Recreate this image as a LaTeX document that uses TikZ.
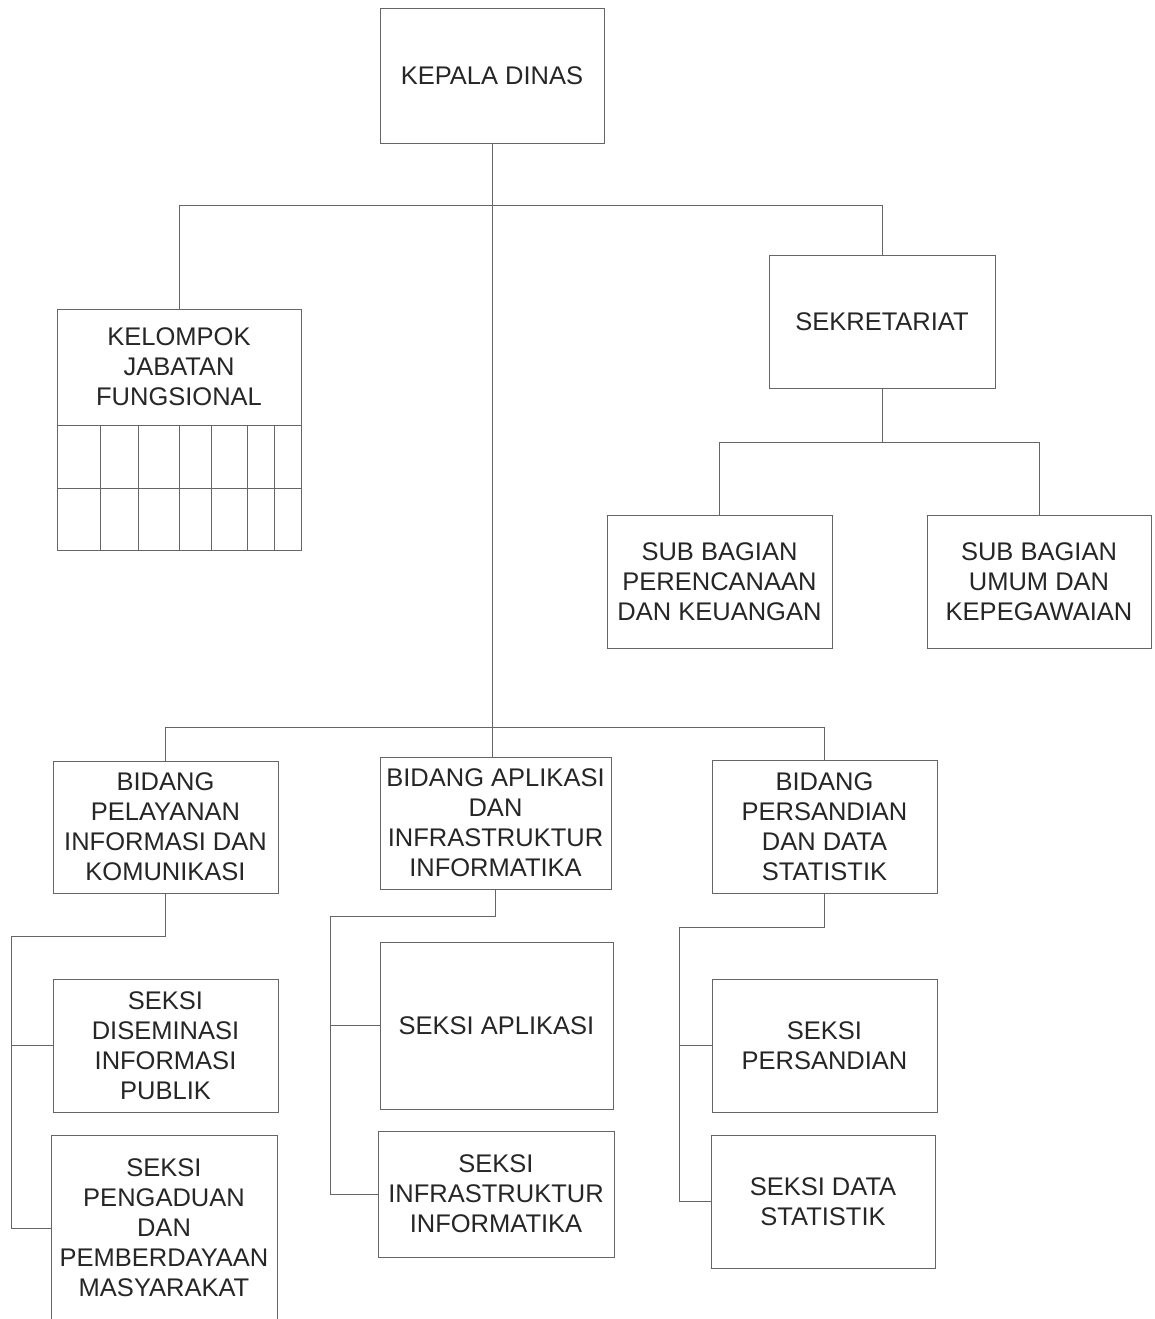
\documentclass[tikz,border=0pt]{standalone}
\usepackage{fontspec}
\setmainfont{Liberation Sans}
\usetikzlibrary{positioning}

\tikzset{
	unit/.style={draw=black!60, rectangle, inner sep=0pt, outer sep=0pt, align=center, text=black!85, font=\fontsize{25.5}{30}\selectfont},
	wire/.style={draw=black!60, line width=1pt}
}

\begin{document}
\begin{tikzpicture}[x=1pt, y=-1pt, line width=1pt]
{
	\fill[white] (0,0) rectangle (1155,1319);
	\useasboundingbox (0,0) rectangle (1155,1319);
	% top level
	\node[unit, minimum width=224, minimum height=134] (Kepala) at (492,76) {KEPALA DINAS};
	\node[unit, minimum width=244, minimum height=116] (Kelompok) at (179,367) {KELOMPOK\\JABATAN\\FUNGSIONAL};
	\node[unit, minimum width=226, minimum height=133] (Sekretariat) at (882,321.5) {SEKRETARIAT};
	\node[unit, minimum width=225, minimum height=133] (SubRencana) at (719.5,581.5) {SUB BAGIAN\\PERENCANAAN\\DAN KEUANGAN};
	\node[unit, minimum width=224, minimum height=133] (SubUmum) at (1039,581.5) {SUB BAGIAN\\UMUM DAN\\KEPEGAWAIAN};
	% bidang
	\node[unit, minimum width=225, minimum height=132] (Pelayanan) at (165.5,827) {BIDANG\\PELAYANAN\\INFORMASI DAN\\KOMUNIKASI};
	\node[unit, minimum width=231, minimum height=132] (Aplikasi) at (495.5,823) {BIDANG APLIKASI\\DAN\\INFRASTRUKTUR\\INFORMATIKA};
	\node[unit, minimum width=225, minimum height=133] (Persandian) at (824.5,826.5) {BIDANG\\PERSANDIAN\\DAN DATA\\STATISTIK};
	% seksi
	\node[unit, minimum width=225, minimum height=133] (Diseminasi) at (165.5,1045.5) {SEKSI\\DISEMINASI\\INFORMASI\\PUBLIK};
	\node[unit, minimum width=226, minimum height=186] (Pengaduan) at (164,1228) {SEKSI\\PENGADUAN\\DAN\\PEMBERDAYAAN\\MASYARAKAT};
	\node[unit, minimum width=233, minimum height=167] (SeksiAplikasi) at (496.5,1025.5) {SEKSI APLIKASI};
	\node[unit, minimum width=236, minimum height=126] (SeksiInfra) at (496,1194) {SEKSI\\INFRASTRUKTUR\\INFORMATIKA};
	\node[unit, minimum width=225, minimum height=133] (SeksiSandi) at (824.5,1045.5) {SEKSI\\PERSANDIAN};
	\node[unit, minimum width=224, minimum height=133] (SeksiData) at (823,1201.5) {SEKSI DATA\\STATISTIK};
	% grid under kelompok
	\draw[wire] (Kelompok.south west) rectangle (301,550);
	\draw[wire] (57,488) -- (301,488);
	\foreach \gx in {100,138,179,211,247,274}
		\draw[wire] (\gx,425) -- (\gx,550);
	% connectors
	\coordinate (TopBar) at (492,205);
	\coordinate (BidBar) at (492,727);
	\coordinate (SekBar) at (882,442);
	\coordinate (PelBar) at (11,936);
	\coordinate (AplBar) at (330,916);
	\coordinate (PerBar) at (679,927);
	\draw[wire] (Kepala.south) -- (Kepala.south |- Aplikasi.north);
	\draw[wire] (Kelompok.north) -- (Kelompok.north |- TopBar) -- (Sekretariat.north |- TopBar) -- (Sekretariat.north);
	\draw[wire] (Pelayanan.north) -- (Pelayanan.north |- BidBar) -- (Persandian.north |- BidBar) -- (Persandian.north);
	\draw[wire] (Sekretariat.south) -- (SekBar);
	\draw[wire] (SubRencana.north) -- (SubRencana.north |- SekBar) -- (SubUmum.north |- SekBar) -- (SubUmum.north);
	\draw[wire] (Pelayanan.south) |- (PelBar) |- (Pengaduan.west);
	\draw[wire] (Diseminasi.west) -- (Diseminasi.west -| PelBar);
	\draw[wire] (Aplikasi.south) |- (AplBar) |- (SeksiInfra.west);
	\draw[wire] (SeksiAplikasi.west) -- (SeksiAplikasi.west -| AplBar);
	\draw[wire] (Persandian.south) |- (PerBar) |- (SeksiData.west);
	\draw[wire] (SeksiSandi.west) -- (SeksiSandi.west -| PerBar);
}
\end{tikzpicture}
\end{document}
